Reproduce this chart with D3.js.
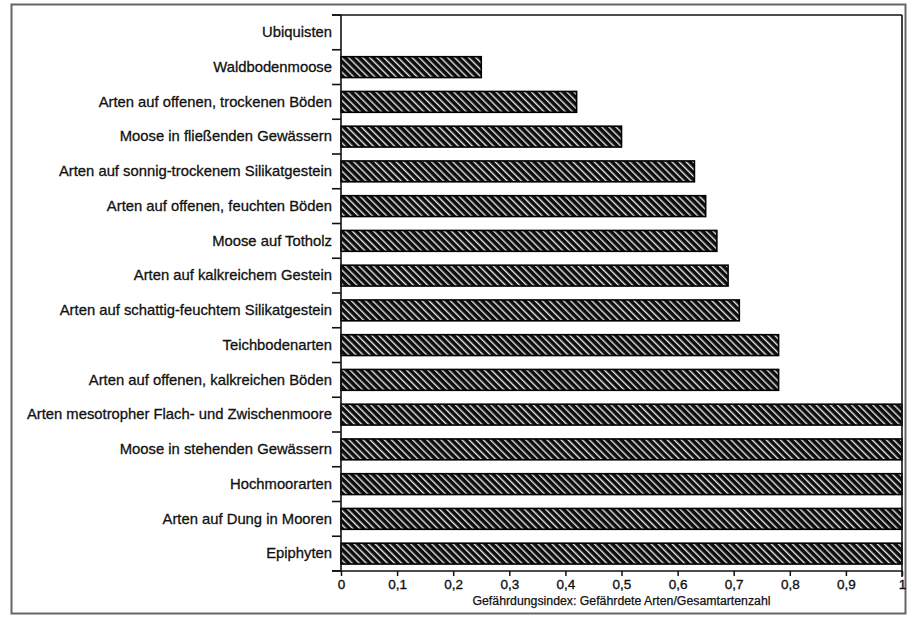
<!DOCTYPE html>
<html>
<head>
<meta charset="utf-8">
<script src="https://cdn.jsdelivr.net/npm/d3@7"></script>
<style>
  html, body { margin: 0; padding: 0; background: #fff; }
  svg { display: block; }
  text { font-family: "Liberation Sans", Arial, Helvetica, sans-serif; fill: #111; }
</style>
</head>
<body>
<svg id="chart" width="908" height="619"></svg>
<script>
const categories = [
  "Ubiquisten",
  "Waldbodenmoose",
  "Arten auf offenen, trockenen Böden",
  "Moose in fließenden Gewässern",
  "Arten auf sonnig-trockenem Silikatgestein",
  "Arten auf offenen, feuchten Böden",
  "Moose auf Totholz",
  "Arten auf kalkreichem Gestein",
  "Arten auf schattig-feuchtem Silikatgestein",
  "Teichbodenarten",
  "Arten auf offenen, kalkreichen Böden",
  "Arten mesotropher Flach- und Zwischenmoore",
  "Moose in stehenden Gewässern",
  "Hochmoorarten",
  "Arten auf Dung in Mooren",
  "Epiphyten"
];
const values = [0, 0.25, 0.42, 0.50, 0.63, 0.65, 0.67, 0.69, 0.71, 0.78, 0.78, 1, 1, 1, 1, 1];
const xTicks = [0, 0.1, 0.2, 0.3, 0.4, 0.5, 0.6, 0.7, 0.8, 0.9, 1];
const xTickLabels = ["0", "0,1", "0,2", "0,3", "0,4", "0,5", "0,6", "0,7", "0,8", "0,9", "1"];
const xTitle = "Gefährdungsindex: Gefährdete Arten/Gesamtartenzahl";

const svg = d3.select("#chart");
const plot = { left: 341, right: 902, top: 15, bottom: 571 };

// outer frame
svg.append("rect")
  .attr("x", 11.5).attr("y", 4.5).attr("width", 894).attr("height", 609)
  .attr("fill", "none").attr("stroke", "#666").attr("stroke-width", 2);

// hatch pattern
const defs = svg.append("defs");
const pat = defs.append("pattern")
  .attr("id", "hatch").attr("patternUnits", "userSpaceOnUse")
  .attr("width", 5).attr("height", 5)
  .attr("patternTransform", "rotate(-45)");
pat.append("rect").attr("width", 5).attr("height", 5).attr("fill", "#0c0c0c");
pat.append("rect").attr("x", 0).attr("width", 1.4).attr("height", 5).attr("fill", "#e6e6e6");

const x = d3.scaleLinear().domain([0, 1]).range([plot.left, plot.right]);
const pad = 0.4;
const y = d3.scaleBand().domain(categories).range([plot.top, plot.bottom])
  .paddingInner(pad).paddingOuter(pad / 2);

// bars
svg.append("g").selectAll("rect")
  .data(categories.map((c, i) => ({ c, v: values[i] })).filter(d => d.v > 0))
  .join("rect")
  .attr("x", x(0))
  .attr("y", d => y(d.c))
  .attr("width", d => x(d.v) - x(0))
  .attr("height", y.bandwidth())
  .attr("fill", "url(#hatch)")
  .attr("stroke", "#000")
  .attr("stroke-width", 1.6);

const step = y.step();
const boundaries = d3.range(categories.length + 1).map(i => plot.top + i * step);

// frame lines: top, right
svg.append("line").attr("x1", plot.left - 9).attr("x2", plot.right)
  .attr("y1", plot.top).attr("y2", plot.top).attr("stroke", "#111").attr("stroke-width", 1.6);
svg.append("line").attr("x1", plot.right).attr("x2", plot.right)
  .attr("y1", plot.top).attr("y2", plot.bottom + 6).attr("stroke", "#111").attr("stroke-width", 1.6);

// y axis labels at band centres
const yAxis = d3.axisLeft(y).tickSize(0).tickPadding(9);
const gy = svg.append("g").attr("transform", `translate(${plot.left},0)`).call(yAxis);
gy.select(".domain").remove();
gy.selectAll("text").style("font-size", "14.8px").attr("fill", "#111")
  .attr("stroke", "#111").attr("stroke-width", 0.3);

// y axis line and boundary ticks
svg.append("line").attr("x1", plot.left).attr("x2", plot.left)
  .attr("y1", plot.top).attr("y2", plot.bottom).attr("stroke", "#111").attr("stroke-width", 1.6);
svg.append("g").selectAll("line").data(boundaries).join("line")
  .attr("x1", plot.left - 9).attr("x2", plot.left)
  .attr("y1", d => d).attr("y2", d => d)
  .attr("stroke", "#111").attr("stroke-width", 1.6);

// x axis
const xAxis = d3.axisBottom(x).tickValues(xTicks)
  .tickFormat((d, i) => xTickLabels[i]).tickSize(5).tickPadding(3);
const gx = svg.append("g").attr("transform", `translate(0,${plot.bottom})`).call(xAxis);
gx.select(".domain").remove();
gx.selectAll(".tick line").attr("stroke", "#111").attr("stroke-width", 1.5);
gx.selectAll("text").style("font-size", "13.5px").attr("fill", "#111")
  .attr("stroke", "#111").attr("stroke-width", 0.35);
svg.append("line").attr("x1", plot.left - 9).attr("x2", plot.right)
  .attr("y1", plot.bottom).attr("y2", plot.bottom).attr("stroke", "#111").attr("stroke-width", 1.6);

// x title
svg.append("text")
  .attr("x", (plot.left + plot.right) / 2)
  .attr("y", 605)
  .attr("text-anchor", "middle")
  .style("font-size", "12.3px")
  .attr("stroke", "#111").attr("stroke-width", 0.25)
  .text(xTitle);
</script>
</body>
</html>
